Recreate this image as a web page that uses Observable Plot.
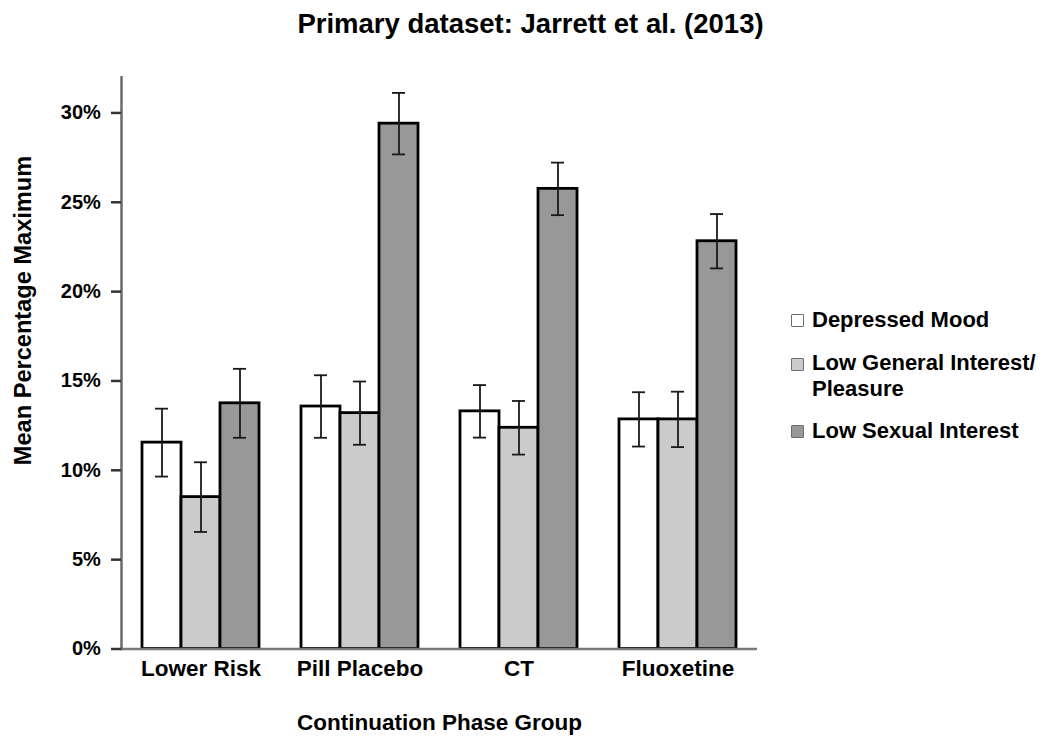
<!DOCTYPE html>
<html>
<head>
<meta charset="utf-8">
<script src="https://cdn.jsdelivr.net/npm/d3@7"></script>
<script src="https://cdn.jsdelivr.net/npm/@observablehq/plot@0.6"></script>
<style>
  html, body { margin: 0; padding: 0; background: #fff; }
  #wrap { position: relative; width: 1050px; height: 740px; overflow: hidden; background: #fff;
          font-family: "Liberation Sans", Arial, sans-serif; font-weight: bold; color: #000; }
  #title { position: absolute; left: 0; width: 1061px; top: 9.7px; line-height: 1; font-size: 27.5px; text-align: center; }
  #chart { position: absolute; left: 0; top: 50px; }
  .leg { position: absolute; left: 791px; font-size: 22px; line-height: 25.5px; }
  .leg .sw { position: absolute; left: 0; top: 7.5px; width: 11px; height: 11px; border: 1.5px solid #6e6e6e; border-radius: 1px; }
  .leg .lab { position: absolute; left: 21px; white-space: nowrap; }
</style>
</head>
<body>
<div id="wrap">
  <div id="title">Primary dataset: Jarrett et al. (2013)</div>
  <div id="chart"></div>
  <div id="legend"></div>
</div>
<script>
// ---- data ----
const groups = ["Lower Risk", "Pill Placebo", "CT", "Fluoxetine"];
const series = ["Depressed Mood", "Low General Interest/ Pleasure", "Low Sexual Interest"];
const legendLines = [["Depressed Mood"], ["Low General Interest/", "Pleasure"], ["Low Sexual Interest"]];
const colors = ["#ffffff", "#cbcbcb", "#989898"];

const depressedMood      = [11.55, 13.57, 13.30, 12.85];
const lowGeneralInterest = [8.50, 13.20, 12.38, 12.85];
const lowSexualInterest  = [13.75, 29.40, 25.75, 22.82];

const depressedMoodErr      = [1.90, 1.75, 1.47, 1.52];
const lowGeneralInterestErr = [1.95, 1.77, 1.50, 1.55];
const lowSexualInterestErr  = [1.93, 1.72, 1.47, 1.52];

const yTicks = [0, 5, 10, 15, 20, 25, 30];

const values = [depressedMood, lowGeneralInterest, lowSexualInterest];
const errors = [depressedMoodErr, lowGeneralInterestErr, lowSexualInterestErr];

const data = groups.flatMap((g, i) =>
  series.map((s, j) => ({group: g, series: s, value: values[j][i], err: errors[j][i]}))
);

const font = "Liberation Sans, Arial, sans-serif";

const chart = Plot.plot({
  width: 1050,
  height: 690,
  marginTop: 26.7,
  marginBottom: 91.5,
  marginLeft: 120,
  marginRight: 292,
  style: {fontFamily: font, fontWeight: "bold", background: "white", color: "#000", overflow: "visible"},
  fx: {domain: groups, paddingInner: 0, paddingOuter: 0, label: null},
  x: {domain: series, paddingInner: 0, paddingOuter: 0.5, axis: null},
  y: {domain: [0, 32], axis: null},
  color: {domain: series, range: colors},
  marks: [
    Plot.barY(data, {fx: "group", x: "series", y: "value", fill: "series", stroke: "#000", strokeWidth: 2.8}),
    Plot.ruleX(data, {fx: "group", x: "series", y1: d => d.value - d.err, y2: d => d.value + d.err, stroke: "#1a1a1a", strokeWidth: 1.8}),
    Plot.tickY(data, {fx: "group", x: "series", y: d => d.value + d.err, inset: 13, stroke: "#1a1a1a", strokeWidth: 1.8}),
    Plot.tickY(data, {fx: "group", x: "series", y: d => d.value - d.err, inset: 13, stroke: "#1a1a1a", strokeWidth: 1.8}),
    Plot.ruleY([0], {stroke: "#7a7a7a", strokeWidth: 2.5}),
    Plot.frame({anchor: "left", facetAnchor: "left", stroke: "#6a6a6a", strokeWidth: 2.5}),
    Plot.axisY({ticks: yTicks, tickFormat: d => d + "%", tickSize: 10, tickPadding: 10.7,
      fontSize: 20, fontWeight: "bold", stroke: "#333", strokeWidth: 2.5, label: null}),
    Plot.axisFx({anchor: "bottom", tickSize: 0, tickPadding: 11.2, fontSize: 22.5, fontWeight: "bold",
      label: "Continuation Phase Group", labelAnchor: "center", labelOffset: 80.5}),
    Plot.text([{group: groups[0]}], {fx: "group", frameAnchor: "left", text: () => "Mean Percentage Maximum",
      rotate: -90, dx: -97.6, dy: -52.6, fontSize: 23.6, fontWeight: "bold", lineAnchor: "middle",
      textAnchor: "middle", fill: "#000"})
  ]
});
document.getElementById("chart").appendChild(chart);

// ---- legend ----
const legendTops = [306.6, 350.3, 417.6];
const legend = document.getElementById("legend");
series.forEach((s, i) => {
  const item = document.createElement("div");
  item.className = "leg";
  item.style.top = legendTops[i] + "px";
  const sw = document.createElement("div");
  sw.className = "sw";
  sw.style.background = colors[i];
  const lab = document.createElement("div");
  lab.className = "lab";
  lab.innerHTML = legendLines[i].join("<br>");
  item.appendChild(sw);
  item.appendChild(lab);
  legend.appendChild(item);
});
</script>
</body>
</html>
